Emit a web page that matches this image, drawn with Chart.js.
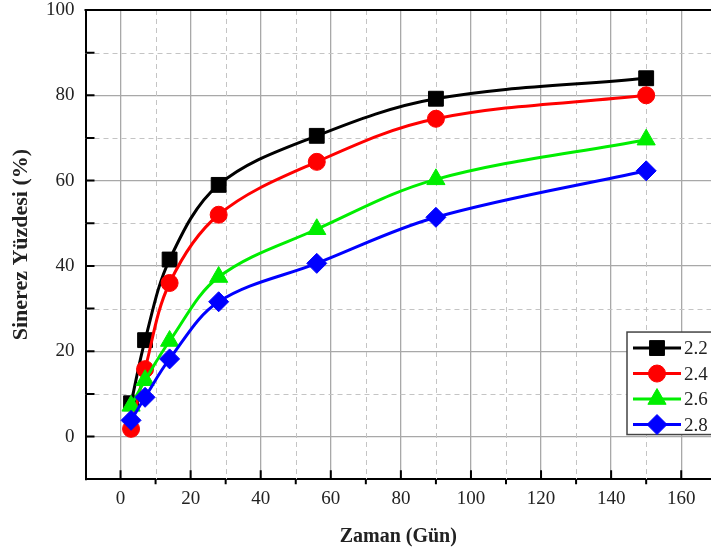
<!DOCTYPE html>
<html><head><meta charset="utf-8">
<script src="https://cdn.jsdelivr.net/npm/chart.js@4/dist/chart.umd.min.js"></script>
<style>html,body{margin:0;padding:0;background:#fff;overflow:hidden}canvas{display:block}</style>
</head><body><canvas id="c" width="711" height="554"></canvas>
<script>
// ---- data ----
const days = [3, 7, 14, 28, 56, 90, 150];
const seriesLabels = ['2.2', '2.4', '2.6', '2.8'];
const s22 = [7.8, 22.6, 41.5, 59.0, 70.5, 79.2, 84.0];
const s24 = [1.8, 15.8, 36.0, 52.0, 64.4, 74.5, 80.0];
const s26 = [7.2, 13.2, 22.4, 37.4, 48.6, 60.3, 69.6];
const s28 = [3.8, 9.2, 18.2, 31.6, 40.6, 51.4, 62.3];
const xTicks = [0, 20, 40, 60, 80, 100, 120, 140, 160];
const xMinor = [10, 30, 50, 70, 90, 110, 130, 150];
const yTicks = [0, 20, 40, 60, 80, 100];
const yMinor = [10, 30, 50, 70, 90];
const xTitle = 'Zaman (Gün)';
const yTitle = 'Sinerez Yüzdesi (%)';

const colors = ['#000000', '#ff0000', '#00ee00', '#0000ff'];
const styles = ['rect', 'circle', 'triangle', 'rectRot'];
const radii = [10.5, 8.5, 10.5, 10];
const allSeries = [s22, s24, s26, s28];

const FONT = "'Liberation Serif', 'Times New Roman', serif";
const X_MIN = -10, X_MAX = 168.5, Y_MIN = -10, Y_MAX = 100;

const datasets = allSeries.map((s, i) => ({
  label: seriesLabels[i],
  data: days.map((d, j) => ({x: d, y: s[j]})),
  borderColor: colors[i],
  backgroundColor: colors[i],
  pointBackgroundColor: colors[i],
  pointBorderColor: colors[i],
  pointStyle: styles[i],
  pointRadius: radii[i],
  pointBorderWidth: 1,
  borderWidth: 3,
  showLine: true,
  tension: 0.35,
  order: 4 - i
}));

function setTicks(arr) { return s => { s.ticks = arr.map(v => ({value: v})); }; }

const minorGridPlugin = {
  id: 'minorGrid',
  beforeDatasetsDraw(chart) {
    const ctx = chart.ctx, a = chart.chartArea;
    const xs = chart.scales.x, ys = chart.scales.y;
    ctx.save();
    ctx.strokeStyle = '#c4c4c4';
    ctx.lineWidth = 1;
    ctx.setLineDash([5, 4]);
    ctx.beginPath();
    xMinor.forEach(v => { const p = Math.round(xs.getPixelForValue(v)) + 0.5; ctx.moveTo(p, a.top); ctx.lineTo(p, a.bottom); });
    yMinor.forEach(v => { const p = Math.round(ys.getPixelForValue(v)) + 0.5; ctx.moveTo(a.left, p); ctx.lineTo(a.right, p); });
    ctx.stroke();
    ctx.restore();
  }
};

const tickPlugin = {
  id: 'frameTicks',
  afterDraw(chart) {
    const ctx = chart.ctx, a = chart.chartArea;
    const xs = chart.scales.x, ys = chart.scales.y;
    ctx.save();
    ctx.strokeStyle = '#000';
    ctx.lineWidth = 2;
    ctx.beginPath();
    ctx.moveTo(a.left - 1, a.top); ctx.lineTo(a.right, a.top);
    xTicks.forEach(v => { const p = xs.getPixelForValue(v); ctx.moveTo(p, a.bottom); ctx.lineTo(p, a.bottom - 9); });
    xMinor.forEach(v => { const p = xs.getPixelForValue(v); ctx.moveTo(p, a.bottom); ctx.lineTo(p, a.bottom + 5); });
    yTicks.concat(yMinor).forEach(v => { const p = ys.getPixelForValue(v); ctx.moveTo(a.left, p); ctx.lineTo(a.left + 9, p); });
    ctx.stroke();
    ctx.restore();
  }
};

function drawMarker(ctx, style, r, x, y, color) {
  if (Chart.helpers && Chart.helpers.drawPoint) {
    ctx.fillStyle = color; ctx.strokeStyle = color; ctx.lineWidth = 1;
    Chart.helpers.drawPoint(ctx, {pointStyle: style, radius: r, rotation: 0, borderWidth: 1}, x, y);
    return;
  }
  ctx.fillStyle = color;
  ctx.beginPath();
  if (style === 'circle') ctx.arc(x, y, r, 0, Math.PI * 2);
  else if (style === 'rect') { const h = r * Math.SQRT1_2; ctx.rect(x - h, y - h, 2 * h, 2 * h); }
  else if (style === 'triangle') { for (let k = 0; k < 3; k++) { const ang = k * 2 * Math.PI / 3; const px = x + Math.sin(ang) * r, py = y - Math.cos(ang) * r; k ? ctx.lineTo(px, py) : ctx.moveTo(px, py); } ctx.closePath(); }
  else { ctx.moveTo(x, y - r); ctx.lineTo(x + r, y); ctx.lineTo(x, y + r); ctx.lineTo(x - r, y); ctx.closePath(); }
  ctx.fill();
}

const legendPlugin = {
  id: 'boxLegend',
  afterDraw(chart) {
    const ctx = chart.ctx, a = chart.chartArea;
    const ys = chart.scales.y;
    const rowH = 25.5;
    const n = chart.data.datasets.length;
    const boxBottom = ys.getPixelForValue(0) - 2;
    const lastRow = boxBottom - 10;
    const boxTop = lastRow - rowH * (n - 1) - 16;
    const left = a.right - 84;
    ctx.save();
    ctx.fillStyle = '#fff';
    ctx.fillRect(left, boxTop, 200, boxBottom - boxTop);
    ctx.strokeStyle = '#444';
    ctx.lineWidth = 1.5;
    ctx.strokeRect(left, boxTop, 200, boxBottom - boxTop);
    chart.data.datasets.forEach((ds, i) => {
      const y = lastRow - rowH * (n - 1 - i);
      ctx.strokeStyle = ds.borderColor;
      ctx.lineWidth = 3;
      ctx.beginPath(); ctx.moveTo(left + 6, y); ctx.lineTo(left + 54, y); ctx.stroke();
      drawMarker(ctx, ds.pointStyle, ds.pointRadius, left + 30, y, ds.borderColor);
      ctx.fillStyle = '#222';
      ctx.font = '19px ' + FONT;
      ctx.textBaseline = 'middle';
      ctx.textAlign = 'left';
      ctx.fillText(ds.label, left + 57, y + 1);
    });
    ctx.restore();
  }
};

new Chart(document.getElementById('c'), {
  type: 'scatter',
  data: {datasets},
  options: {
    responsive: false,
    animation: false,
    layout: {autoPadding: false, padding: {left: 5, right: 0, top: 10, bottom: 5}},
    plugins: {legend: {display: false}, tooltip: {enabled: false}},
    scales: {
      x: {
        type: 'linear', position: 'bottom', min: X_MIN, max: X_MAX,
        afterBuildTicks: setTicks(xTicks),
        afterFit: s => { s.paddingLeft = 0; s.paddingRight = 0; },
        grid: {color: '#a8a8a8', lineWidth: 1.3, drawTicks: false},
        border: {display: true, color: '#000', width: 2},
        ticks: {font: {family: FONT, size: 19}, color: '#222', padding: 8},
        title: {display: true, text: xTitle, font: {family: FONT, size: 20, weight: 'bold'}, color: '#222', padding: {top: 7, bottom: 0}}
      },
      y: {
        type: 'linear', position: 'left', min: Y_MIN, max: Y_MAX,
        afterBuildTicks: setTicks(yTicks),
        afterFit: s => { s.paddingTop = 0; s.paddingBottom = 0; },
        grid: {color: '#a8a8a8', lineWidth: 1.3, drawTicks: false},
        border: {display: true, color: '#000', width: 2},
        ticks: {font: {family: FONT, size: 19}, color: '#222', padding: 11},
        title: {display: true, text: yTitle, font: {family: FONT, size: 22, weight: 'bold'}, color: '#222', padding: {top: 3.6, bottom: 0}}
      }
    }
  },
  plugins: [minorGridPlugin, tickPlugin, legendPlugin]
});
</script>
</body></html>
